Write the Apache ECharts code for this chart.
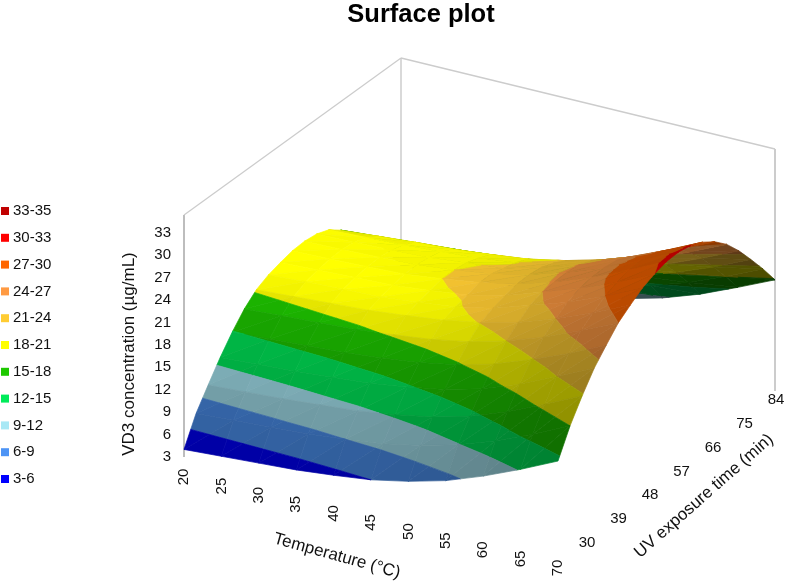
<!DOCTYPE html>
<html>
<head>
<meta charset="utf-8">
<style>html,body{margin:0;padding:0;background:#fff}#main{width:789px;height:582px}</style>
<script src="https://cdn.jsdelivr.net/npm/echarts@6/dist/echarts.min.js"></script>
</head>
<body>
<div id="main"></div>
<script>
const temperatures = [20, 25, 30, 35, 40, 45, 50, 55, 60, 65, 70];
const times = [30, 33, 36, 39, 42, 45, 48, 51, 54, 57, 60, 63, 66, 69, 72, 75, 78, 81, 84];
// one row per exposure time, one column per temperature
const concentration = [
  [4.0, 4.3, 4.6, 4.9, 5.4, 6.0, 7.0, 8.3, 10.1, 12.2, 14.5],
  [7.6, 7.9, 8.2, 8.5, 9.0, 9.6, 10.6, 11.9, 13.6, 15.7, 18.0],
  [10.2, 10.5, 10.8, 11.2, 11.6, 12.3, 13.2, 14.5, 16.3, 18.5, 20.8],
  [12.7, 13.0, 13.3, 13.7, 14.1, 14.8, 15.7, 17.0, 18.8, 21.0, 23.3],
  [14.9, 15.2, 15.5, 15.8, 16.3, 16.9, 17.8, 19.1, 20.9, 22.9, 25.2],
  [16.8, 17.1, 17.4, 17.7, 18.2, 18.8, 19.7, 21.0, 22.7, 24.8, 27.0],
  [18.2, 18.5, 18.8, 19.1, 19.6, 20.2, 21.1, 22.3, 24.0, 26.0, 28.2],
  [19.0, 19.3, 19.5, 19.7, 20.2, 20.8, 21.8, 23.4, 25.0, 27.0, 29.3],
  [19.5, 19.7, 19.9, 20.1, 20.6, 21.2, 22.3, 24.0, 25.7, 27.7, 30.0],
  [19.9, 20.0, 20.2, 20.4, 21.0, 21.7, 22.7, 24.2, 26.0, 28.2, 30.5],
  [20.0, 20.1, 20.3, 20.5, 21.0, 21.7, 22.8, 24.3, 26.1, 28.3, 30.6],
  [19.8, 19.9, 20.1, 20.3, 20.8, 21.3, 22.6, 24.1, 25.9, 28.0, 30.3],
  [19.2, 19.4, 19.6, 19.9, 20.3, 20.9, 22.0, 23.5, 25.2, 27.3, 29.6],
  [18.0, 18.4, 18.8, 19.1, 19.6, 20.2, 21.2, 22.5, 24.2, 26.3, 28.5],
  [16.5, 16.9, 17.3, 17.7, 18.2, 18.8, 19.7, 21.0, 22.7, 24.8, 27.0],
  [15.0, 15.3, 15.6, 15.9, 16.4, 17.0, 17.9, 19.1, 20.8, 22.8, 25.0],
  [12.9, 13.1, 13.4, 13.8, 14.2, 14.8, 15.7, 16.9, 18.6, 20.5, 22.7],
  [10.4, 10.6, 10.9, 11.3, 11.7, 12.3, 13.2, 14.5, 16.1, 18.1, 20.3],
  [7.5, 7.8, 8.1, 8.4, 8.9, 9.5, 10.4, 11.7, 13.4, 15.5, 17.7]
];
const bandLabels = ["33-35", "30-33", "27-30", "24-27", "21-24", "18-21", "15-18", "12-15", "9-12", "6-9", "3-6"];
const bandLows = [33, 30, 27, 24, 21, 18, 15, 12, 9, 6, 3];
const bandHighs = [35, 33, 30, 27, 24, 21, 18, 15, 12, 9, 6];
const bandColors = ["#c00000", "#ff0000", "#ff6600", "#ff9a42", "#ffcc33", "#ffff00", "#1ec800", "#00eb5a", "#a8e8f5", "#4d94f5", "#0000ff"];
const tempTicks = [20, 25, 30, 35, 40, 45, 50, 55, 60, 65, 70];
const timeTicks = [30, 39, 48, 57, 66, 75, 84];
const concTicks = [3, 6, 9, 12, 15, 18, 21, 24, 27, 30, 33];

const TEXT = "#111";
const FONT = "Liberation Sans, Arial, sans-serif";

// fixed oblique view of the box: temperature, time and concentration to plot units
function project(temp, time, conc) {
  const u = (temp - 20) / 50;
  const v = (time - 30) / 54;
  const w = (conc - 3) / 32;
  return [374 * u + 217 * v, 157 * v + 242 * w - 91 * u];
}

// cut a polygon of [temp, time, conc] corners to one side of a concentration level
function clipLevel(poly, level, keepAbove) {
  const out = [];
  poly.forEach((p, i) => {
    const q = poly[(i + 1) % poly.length];
    const pIn = keepAbove ? p[2] >= level : p[2] <= level;
    const qIn = keepAbove ? q[2] >= level : q[2] <= level;
    if (pIn) out.push(p);
    if (pIn !== qIn) {
      const f = (level - p[2]) / (q[2] - p[2]);
      out.push([p[0] + f * (q[0] - p[0]), p[1] + f * (q[1] - p[1]), level]);
    }
  });
  return out;
}

// brightness of a cell from its slopes, averaged over the neighbours so it stays smooth
function shadeOf(i, j) {
  const i0 = Math.max(i - 1, 0);
  const i1 = Math.min(i + 2, temperatures.length - 1);
  const j0 = Math.max(j - 1, 0);
  const j1 = Math.min(j + 2, times.length - 1);
  const dT = (temperatures[i1] - temperatures[i0]) / 50;
  const dt = (times[j1] - times[j0]) / 54;
  const zAt = (a, b) => concentration[b][a] / 32;
  const gT = (zAt(i1, j) + zAt(i1, j + 1) - zAt(i0, j) - zAt(i0, j + 1)) / 2 / dT;
  const gt = (zAt(i, j1) + zAt(i + 1, j1) - zAt(i, j0) - zAt(i + 1, j0)) / 2 / dt;
  // the far side only goes dark once it falls away steeply
  const lit = gt >= 0 ? 0.2 * gt : -0.45 * Math.max(0, -gt - 0.5);
  const tilt = gt >= 0 ? gt : Math.max(0, -gt - 0.5);
  const f = (1 + lit - 0.2 * gT) / Math.sqrt(1 + gT * gT + tilt * tilt);
  return Math.max(0.25, Math.min(1, f));
}

function darken(hex, f) {
  const n = parseInt(hex.slice(1), 16);
  const r = Math.round(((n >> 16) & 255) * f);
  const g = Math.round(((n >> 8) & 255) * f);
  const b = Math.round((n & 255) * f);
  return "rgb(" + r + "," + g + "," + b + ")";
}

// cells from back to front so nearer ones paint over farther ones
const cells = [];
for (let j = times.length - 2; j >= 0; j--) {
  for (let i = 0; i < temperatures.length - 1; i++) cells.push([i, j]);
}

function renderCell(params, api) {
  const i = api.value(0);
  const j = api.value(1);
  const corner = (a, b) => [temperatures[a], times[b], concentration[b][a]];
  const tris = [
    [corner(i, j), corner(i, j + 1), corner(i + 1, j + 1)],
    [corner(i, j), corner(i + 1, j), corner(i + 1, j + 1)]
  ];
  const shade = shadeOf(i, j);
  const children = [];
  tris.forEach((tri, n) => {
    bandLows.forEach((low, k) => {
      let poly = clipLevel(tri, low, true);
      if (poly.length) poly = clipLevel(poly, bandHighs[k], false);
      if (poly.length < 3) return;
      const color = darken(bandColors[k], n ? shade * 0.985 : shade);
      children.push({
        type: "polygon",
        shape: { points: poly.map((p) => api.coord(project(p[0], p[1], p[2]))) },
        style: { fill: color, stroke: color, lineWidth: 0.7 }
      });
    });
  });
  return { type: "group", children: children };
}

function renderWalls(params, api) {
  const line = (a, b, width, color) => {
    const p = api.coord(project(a[0], a[1], a[2]));
    const q = api.coord(project(b[0], b[1], b[2]));
    return {
      type: "line",
      shape: { x1: p[0], y1: p[1], x2: q[0], y2: q[1] },
      style: { stroke: color, lineWidth: width }
    };
  };
  return {
    type: "group",
    children: [
      line([20, 30, 3], [20, 30, 35], 2, "#bdbdbd"),
      line([20, 84, 3], [20, 84, 35], 1.5, "#cccccc"),
      line([70, 84, 3], [70, 84, 35], 2, "#cccccc"),
      line([20, 30, 35], [20, 84, 35], 1.3, "#cccccc"),
      line([20, 84, 35], [70, 84, 35], 1.3, "#cccccc")
    ]
  };
}

function label(pos, text, opts) {
  return Object.assign({
    type: "text",
    x: pos[0],
    y: pos[1],
    style: { text: String(text), fill: TEXT, font: (opts.size || 15) + "px " + FONT, textAlign: opts.align || "center", textVerticalAlign: "middle" }
  }, opts.rotation ? { rotation: opts.rotation } : {});
}

function renderTempTick(params, api) {
  const p = api.coord(project(api.value(0), 30, 3));
  return label([p[0], p[1] + 20], api.value(0), { rotation: Math.PI / 2 });
}

function renderTimeTick(params, api) {
  const time = api.value(0);
  const p = api.coord(project(70, time, 3));
  const v = (time - 30) / 54;
  return label([p[0] + 29 - 28 * v, p[1] - 5 + 14 * v], time, {});
}

function renderConcTick(params, api) {
  const conc = api.value(0);
  const p = api.coord(project(20, 30, conc));
  return label([p[0] - 13, p[1] + 2.5 * (conc - 3) / 30], conc, { align: "right" });
}

function renderAxisNames(params, api) {
  const base = api.coord(project(20, 30, 3));
  return {
    type: "group",
    children: [
      label([base[0] - 55, base[1] - 103], "VD3 concentration (µg/mL)", { rotation: Math.PI / 2, size: 17 }),
      label([base[0] + 153, base[1] + 99], "Temperature (°C)", { rotation: -0.27, size: 17 }),
      label([base[0] + 520, base[1] + 39], "UV exposure time (min)", { rotation: 0.72, size: 17 })
    ]
  };
}

const myChart = echarts.init(document.getElementById("main"));
const legendSeries = bandLabels.map((name, k) => ({
  name: name,
  type: "custom",
  renderItem: () => null,
  data: [],
  itemStyle: { color: bandColors[k] }
}));

myChart.setOption({
  animation: false,
  title: {
    text: "Surface plot",
    left: 416,
    top: -3,
    textAlign: "center",
    textStyle: { color: "#000", fontFamily: FONT, fontWeight: "bold", fontSize: 25.5 }
  },
  legend: {
    data: bandLabels,
    orient: "vertical",
    left: 1,
    top: 203,
    icon: "rect",
    itemWidth: 8,
    itemHeight: 8,
    itemGap: 10.8,
    selectedMode: false,
    padding: 0,
    textStyle: { color: TEXT, fontFamily: FONT, fontSize: 15, lineHeight: 16, padding: [0, 0, 0, -1] }
  },
  grid: { left: 184, width: 591, top: 58, height: 490 },
  xAxis: { type: "value", min: 0, max: 591, show: false },
  yAxis: { type: "value", min: -91, max: 399, show: false },
  series: [
    { type: "custom", renderItem: renderWalls, data: [[0]], silent: true },
    { type: "custom", renderItem: renderCell, data: cells, silent: true },
    { type: "custom", renderItem: renderTempTick, data: tempTicks.map((d) => [d]), silent: true },
    { type: "custom", renderItem: renderTimeTick, data: timeTicks.map((d) => [d]), silent: true },
    { type: "custom", renderItem: renderConcTick, data: concTicks.map((d) => [d]), silent: true },
    { type: "custom", renderItem: renderAxisNames, data: [[0]], silent: true }
  ].concat(legendSeries)
});
</script>
</body>
</html>
